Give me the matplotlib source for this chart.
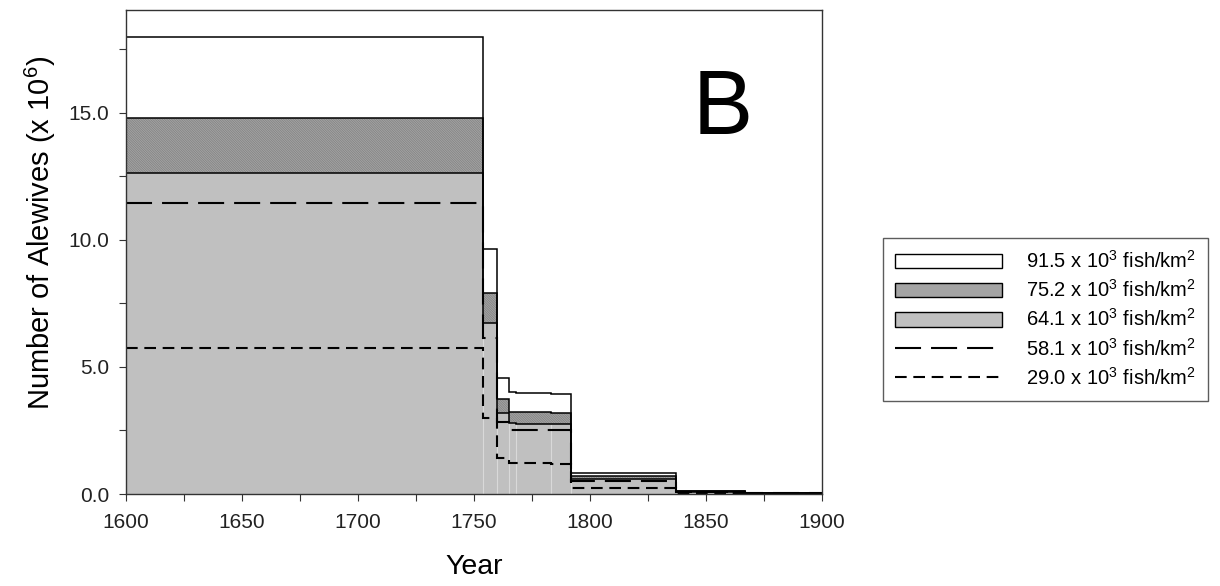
"""Alewife population estimates by stocking density, panel B."""

import matplotlib

matplotlib.use("Agg")

import matplotlib.pyplot as plt
from matplotlib.lines import Line2D
from matplotlib.patches import Patch
from matplotlib.ticker import MultipleLocator

plt.rcParams["font.family"] = ["Liberation Sans", "DejaVu Sans"]
plt.rcParams["mathtext.fontset"] = "custom"
plt.rcParams["mathtext.rm"] = "Liberation Sans"
plt.rcParams["mathtext.it"] = "Liberation Sans:italic"
plt.rcParams["hatch.linewidth"] = 0.5

# bin edges (years) and alewives (x 10^6) per bin for each density
year_edges = [1600, 1754, 1760, 1765, 1768, 1783, 1792, 1837, 1867, 1900]
dens_915 = [18.0, 9.63, 4.58, 4.0, 3.97, 3.94, 0.81, 0.13, 0.04]
dens_752 = [14.8, 7.9, 3.73, 3.24, 3.22, 3.2, 0.71, 0.11, 0.03]
dens_641 = [12.65, 6.72, 3.2, 2.78, 2.76, 2.74, 0.59, 0.09, 0.03]
dens_581 = [11.45, 6.13, 2.85, 2.52, 2.52, 2.5, 0.5, 0.08, 0.02]
dens_290 = [5.75, 2.98, 1.4, 1.21, 1.21, 1.2, 0.22, 0.04, 0.01]

labels = [
    "91.5 x 10$^3$ fish/km$^2$",
    "75.2 x 10$^3$ fish/km$^2$",
    "64.1 x 10$^3$ fish/km$^2$",
    "58.1 x 10$^3$ fish/km$^2$",
    "29.0 x 10$^3$ fish/km$^2$",
]

WHITE = "white"
DARK = "#a4a4a4"
HATCH_COL = "#808080"
LIGHT = "#c0c0c0"
HATCH = "\\" * 14
LONG_DASH = (12.5, 4.8)
SHORT_DASH = (5.6, 3.2)

fig = plt.figure(figsize=(12.2, 5.86), dpi=100)
ax = fig.add_axes([126 / 1220, 92 / 586, 696 / 1220, 484 / 586])

# filled steps, back to front
ax.stairs(dens_915, year_edges, fill=True, facecolor=WHITE, edgecolor="none", zorder=1)
ax.stairs(dens_752, year_edges, fill=True, facecolor=DARK, edgecolor="none", zorder=1.1)
ax.stairs(dens_752, year_edges, fill=True, facecolor="none", edgecolor=HATCH_COL,
          linewidth=0, hatch=HATCH, zorder=1.2)
ax.stairs(dens_641, year_edges, fill=True, facecolor=LIGHT, edgecolor="none", zorder=1.3)

# faint seams between neighbouring bars
for i in range(1, len(year_edges) - 3):
    top = min(dens_641[i - 1], dens_641[i])
    ax.vlines(year_edges[i], 0, top, color="#d9d9d9", linewidth=0.8, zorder=1.4)

# black outlines
for vals in (dens_915, dens_752, dens_641):
    ax.stairs(vals, year_edges, fill=False, baseline=0, edgecolor="black",
              linewidth=1.1, zorder=2)

ax.stairs(dens_581, year_edges, baseline=None, edgecolor="black", linewidth=1.5,
          linestyle=(0, LONG_DASH), zorder=3)
ax.stairs(dens_290, year_edges, baseline=None, edgecolor="black", linewidth=1.5,
          linestyle=(0, SHORT_DASH), zorder=3)

ax.set_xlim(1600, 1900)
ax.set_ylim(0, 19.05)
ax.set_xticks([1600, 1650, 1700, 1750, 1800, 1850, 1900])
ax.set_yticks([0, 5, 10, 15])
ax.set_yticklabels(["0.0", "5.0", "10.0", "15.0"])
ax.xaxis.set_minor_locator(MultipleLocator(25))
ax.yaxis.set_minor_locator(MultipleLocator(2.5))
ax.tick_params(which="both", direction="out", length=5, width=0.8,
               color="#333333", labelsize=15, labelcolor="#222222")
ax.tick_params(axis="x", pad=9)
ax.tick_params(axis="y", pad=7)
for sp in ax.spines.values():
    sp.set_color("#333333")
    sp.set_linewidth(1.0)
    sp.set_zorder(4)

ax.set_ylabel("Number of Alewives (x 10$^{6}$)", fontsize=21)
ax.set_xlabel("Year", fontsize=20.5)
ax.yaxis.set_label_coords(-0.098, 0.539)
ax.xaxis.set_label_coords(0.5, -0.124)

ax.text(0.858, 0.744, "B", transform=ax.transAxes, fontsize=65,
        ha="center", va="baseline")

handles = [
    Patch(facecolor=WHITE, edgecolor="black", linewidth=1.0),
    Patch(facecolor=DARK, edgecolor="black", linewidth=1.0),
    Patch(facecolor=LIGHT, edgecolor="black", linewidth=1.0),
    Line2D([], [], color="black", linewidth=1.5, linestyle=(0, LONG_DASH)),
    Line2D([], [], color="black", linewidth=1.5, linestyle=(0, SHORT_DASH)),
]
leg = fig.legend(handles, labels, loc="upper left",
                 bbox_to_anchor=(883 / 1220, 1 - 238 / 586),
                 borderaxespad=0, fontsize=14.5, handlelength=5.3,
                 handleheight=0.75, handletextpad=1.2, labelspacing=0.36,
                 borderpad=0.6, fancybox=False, frameon=True)
leg.get_frame().set_edgecolor("#333333")
leg.get_frame().set_linewidth(1.0)

fig.savefig("out.png", dpi=100)
